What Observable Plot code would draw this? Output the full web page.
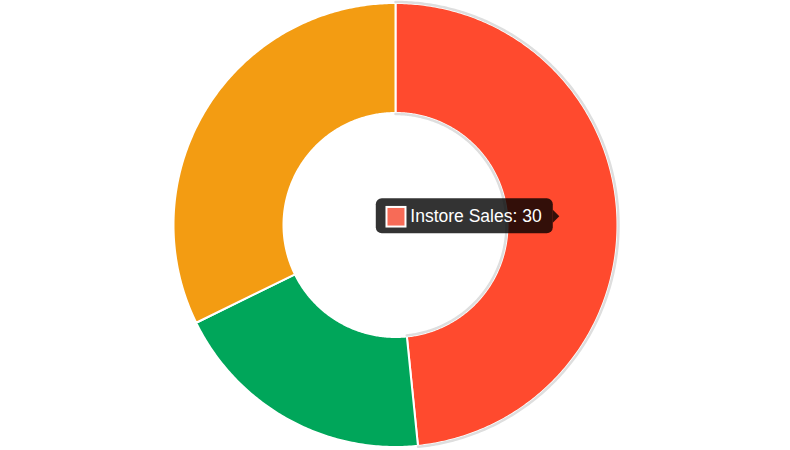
<!DOCTYPE html>
<html>
<head>
<meta charset="utf-8">
<script src="https://cdn.jsdelivr.net/npm/d3@7"></script>
<script src="https://cdn.jsdelivr.net/npm/@observablehq/plot@0.6"></script>
<style>
  html, body { margin: 0; padding: 0; background: #fff; }
  #chart svg { display: block; }
</style>
</head>
<body>
<div id="chart"></div>
<script>
// Data
const labels = ["Instore Sales", "Download Sales", "Mail-Order Sales"];
const values = [30, 12, 20];
const colors = ["#FF4A2E", "#00A65A", "#F39C12"];
const activeIndex = 0; // hovered slice shown in the tooltip

// Layout
const W = 790, H = 450;
const cx = 395, cy = 224.5;
const rOuter = 222, rInner = 112;

const pie = d3.pie().sort(null).value(d => d.value)(labels.map((l, i) => ({label: l, value: values[i], color: colors[i]})));

function pt(a, r) { return [cx + r * Math.sin(a), cy - r * Math.cos(a)]; }
function arcPts(a0, a1, r) {
  const n = Math.max(2, Math.ceil((a1 - a0) / 0.01));
  return d3.range(n + 1).map(k => pt(a0 + (a1 - a0) * k / n, r));
}

const polys = [];
pie.forEach((p, i) => {
  const outer = arcPts(p.startAngle, p.endAngle, rOuter);
  const inner = arcPts(p.startAngle, p.endAngle, rInner).reverse();
  [...outer, ...inner, outer[0]].forEach(([x, y]) => polys.push({x, y, slice: i, color: p.data.color}));
});

const act = pie[activeIndex];
const hoverRim = [];
arcPts(act.startAngle, act.endAngle, rOuter + 1).forEach(([x, y]) => hoverRim.push({x, y, g: "o"}));
arcPts(act.startAngle, act.endAngle, rInner - 1).forEach(([x, y]) => hoverRim.push({x, y, g: "i"}));

// tooltip anchored near the active slice's centroid
const midA = (act.startAngle + act.endAngle) / 2;
const [cxA, cyA] = pt(midA, (rOuter + rInner) / 2);
const tx = cxA - 3, ty = cyA - 0.3;
const tipText = `${act.data.label}: ${act.data.value}`;
const box = [{x1: tx - 183, x2: tx - 6, y1: ty - 17.5, y2: ty + 17.5}];
const caret = [{x: tx - 6.5, y: ty - 6.5}, {x: tx, y: ty}, {x: tx - 6.5, y: ty + 6.5}];
const swatch = [{x1: tx - 172.3, x2: tx - 153.3, y1: ty - 8.8, y2: ty + 10.8}];

const chart = Plot.plot({
  width: W,
  height: H,
  margin: 0,
  x: {domain: [0, W], range: [0, W], axis: null},
  y: {domain: [0, H], range: [0, H], axis: null},
  marks: [
    Plot.line(polys, {x: "x", y: "y", z: "slice", fill: "color", stroke: "#fff", strokeWidth: 2, curve: "linear"}),
    Plot.line(hoverRim, {x: "x", y: "y", z: "g", stroke: "#DEDEDE", strokeWidth: 2.5}),
    Plot.rect(box, {x1: "x1", x2: "x2", y1: "y1", y2: "y2", fill: "#000", fillOpacity: 0.8, rx: 6}),
    Plot.line(caret, {x: "x", y: "y", fill: "#000", fillOpacity: 0.8, stroke: null}),
    Plot.rect(swatch, {x1: "x1", x2: "x2", y1: "y1", y2: "y2", fill: "#F76B57", stroke: "#fff", strokeWidth: 2}),
    Plot.text([tipText], {x: tx - 149, y: ty + 0.4, text: d => d, fill: "#fff", fontSize: 17.5, textAnchor: "start", fontFamily: "Liberation Sans, Arial, sans-serif"})
  ]
});
document.getElementById("chart").appendChild(chart);
</script>
</body>
</html>
